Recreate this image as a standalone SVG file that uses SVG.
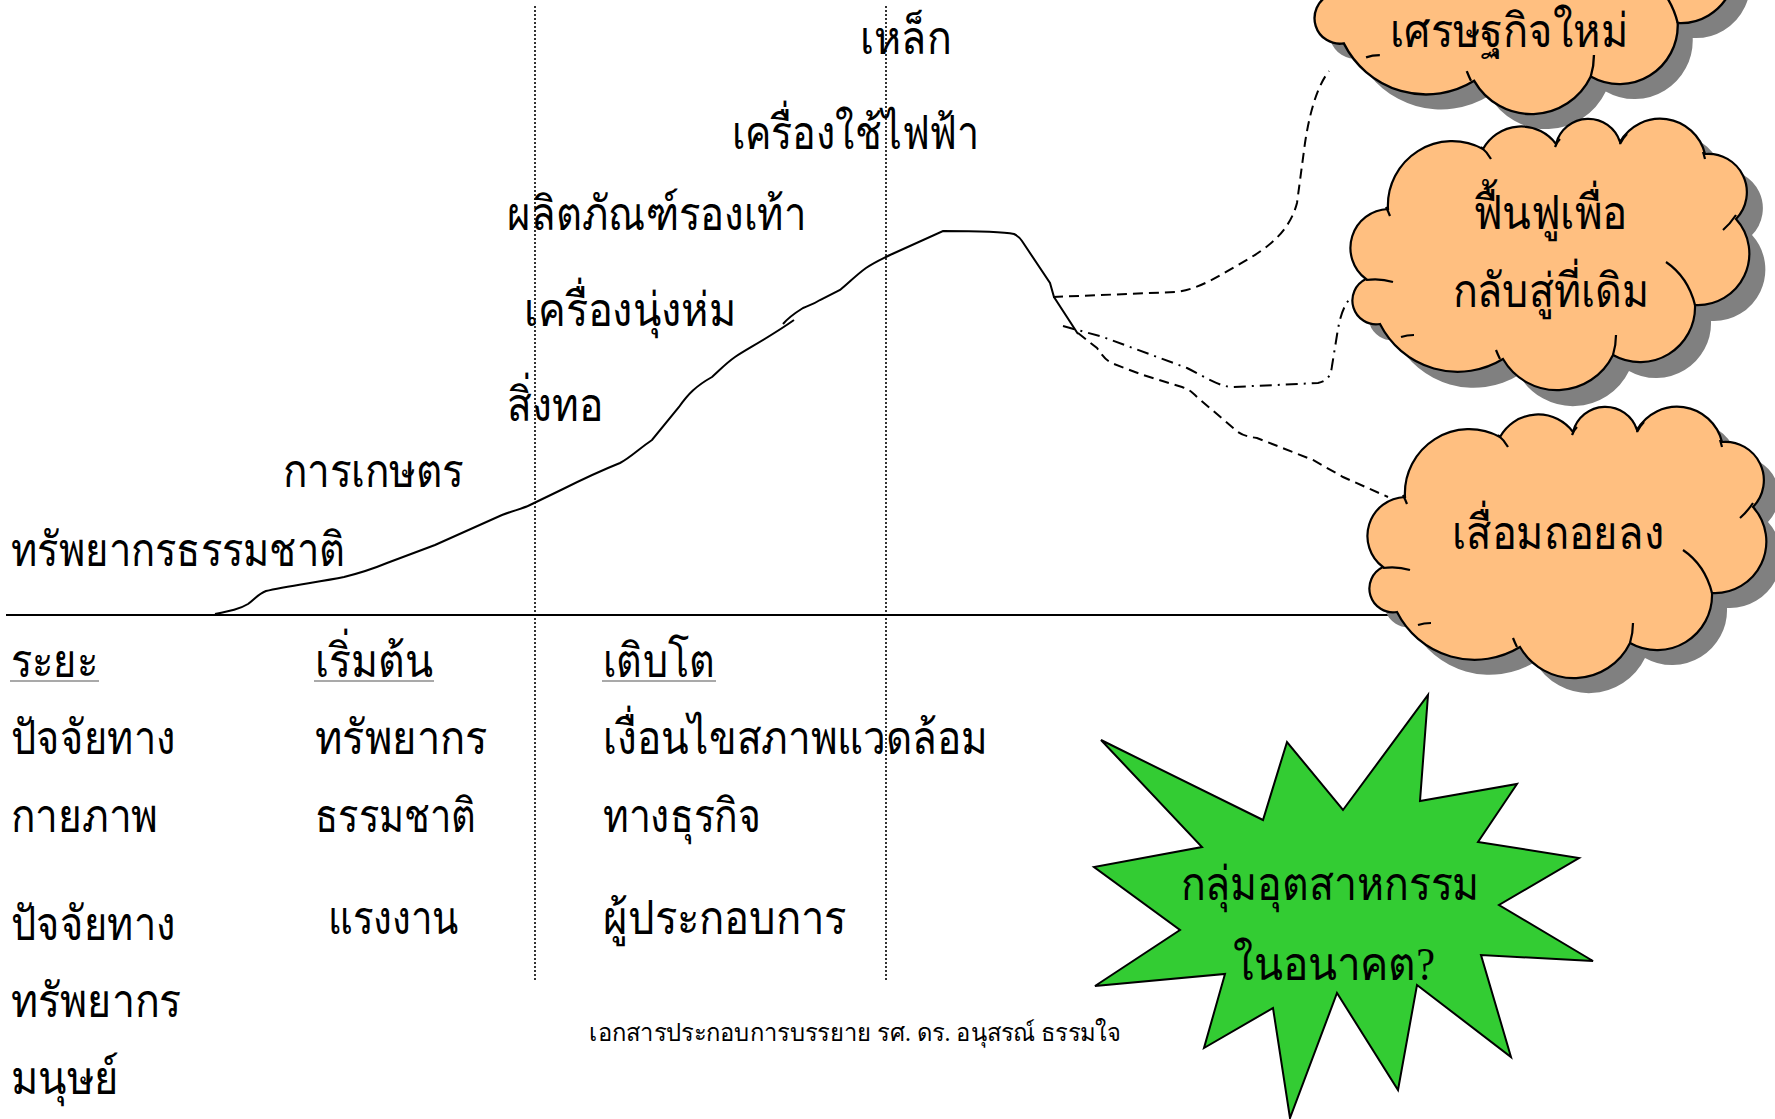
<svg xmlns="http://www.w3.org/2000/svg" xmlns:xlink="http://www.w3.org/1999/xlink" width="1775" height="1119" viewBox="0 0 1775 1119">
<style>
.t{font-family:'Liberation Serif','Noto Sans',serif;font-size:47px;fill:#000}
.c{text-anchor:middle}
.f{font-family:'Liberation Serif','Noto Sans',serif;font-size:25px;fill:#000}
.ul{stroke:#8c8c8c;stroke-width:1.5}
.dot{stroke:#000;stroke-width:1.6;stroke-dasharray:2 2;fill:none}
.conn{fill:none;stroke:#000;stroke-width:2}
.cloud{fill:#ffbf80;stroke:#000;stroke-width:2.2}
.shadow{fill:#808080}
.tick{fill:none;stroke:#000;stroke-width:2.2}
</style>
<defs>
<path id="cloudP" d="M16,160 A38.9,38.9 0 0 1 38,90 A64.3,64.3 0 0 1 133,30 A43.5,43.5 0 0 1 206,25 A33.3,33.3 0 0 1 270,23 A46.2,46.2 0 0 1 355,35 A38.4,38.4 0 0 1 386,100 A51.5,51.5 0 0 1 345,186 A55,55 0 0 1 263,236 A62.3,62.3 0 0 1 153,240 A87,87 0 0 1 30,205 A23.8,23.8 0 0 1 16,160 Z"/>
<path id="cloudT" d="M36,88 q2,4 4,9 M16,161 q14,-2 27,2 M51,218 q6,-2 13,-2 M146,231 q2,5 4,9 M266,216 q0,10 -3,20 M316,143 q22,15 29,43 M373,111 q7,-6 13,-15 M355,40 q-1,-4 -2,-7 M270,25 q3,-6 7,-10 M205,28 q2,-5 5,-8 M131,28 q6,5 10,12"/>
</defs>
<rect width="1775" height="1119" fill="#fff"/>

<g id="axes">
<line x1="6" y1="615" x2="1390" y2="615" stroke="#000" stroke-width="2"/>
<line class="dot" x1="535" y1="6" x2="535" y2="980"/>
<line class="dot" x1="886" y1="6" x2="886" y2="980"/>
</g>

<g id="curve">
<path class="conn" d="M215,614 C230,611 240,609 248,604 C255,599 258,594 266,591 C285,586 320,582 344,577 C360,573 375,568 387,563 L435,545 L502,515 C515,510 522,509 530,505 L561,490 C575,483 595,473 620,463 C630,458 640,448 652,440 L679,407 C688,394 696,386 712,377 C720,370 725,364 735,357 C745,350 770,337 794,320"/>
<path class="conn" d="M783,324 C788,318 795,313 803,308 C810,305 814,304 820,300 L840,290 C850,282 855,276 866,268 C875,262 880,260 890,255 L943,231 C965,231 1000,231 1014,234 C1018,236 1020,238 1022,241 L1050,283 L1054,297 L1078,334"/>
</g>

<g id="connectors">
<path class="conn" stroke-dasharray="10 6" d="M1053,297 L1175,292 C1200,290 1225,272 1250,258 C1270,246 1290,230 1297,203 L1305,143 C1310,110 1318,85 1329,71"/>
<path class="conn" stroke-dasharray="12 6 2 6" d="M1063,326 L1103,337 L1187,368 C1205,377 1220,387 1233,387 L1318,383 C1328,381 1331,375 1332,366 L1337,335 C1340,315 1344,305 1352,296"/>
<path class="conn" stroke-dasharray="10 6" d="M1078,333 L1097,348 C1103,356 1106,361 1114,364 L1143,375 L1182,387 C1190,390 1192,392 1197,397 L1238,432 C1244,436 1250,437 1257,438 L1313,460 L1343,477 L1388,497"/>
</g>

<g id="cloud1">
<use xlink:href="#cloudP" class="shadow" transform="translate(1327,-161) scale(1.06,1.07)"/>
<use xlink:href="#cloudP" class="cloud" transform="translate(1312,-176) scale(1.06,1.07)"/>
<use xlink:href="#cloudT" class="tick" transform="translate(1312,-176) scale(1.06,1.07)"/>
<text class="t c" x="1509" y="47" textLength="238" lengthAdjust="spacingAndGlyphs">เศรษฐกิจใหม่</text>
</g>

<g id="cloud2">
<use xlink:href="#cloudP" class="shadow" transform="translate(1366,135)"/>
<use xlink:href="#cloudP" class="cloud" transform="translate(1350,119)"/>
<use xlink:href="#cloudT" class="tick" transform="translate(1350,119)"/>
<text class="t c" x="1550" y="229" textLength="155" lengthAdjust="spacingAndGlyphs">ฟื้นฟูเพื่อ</text>
<text class="t c" x="1551" y="307" textLength="197" lengthAdjust="spacingAndGlyphs">กลับสู่ที่เดิม</text>
</g>

<g id="cloud3">
<use xlink:href="#cloudP" class="shadow" transform="translate(1382,422)"/>
<use xlink:href="#cloudP" class="cloud" transform="translate(1367,407)"/>
<use xlink:href="#cloudT" class="tick" transform="translate(1367,407)"/>
<text class="t c" x="1558" y="549" textLength="212" lengthAdjust="spacingAndGlyphs">เสื่อมถอยลง</text>
</g>

<g id="star">
<polygon points="1101,740 1263,820 1287,742 1343,810 1428,695 1420,801 1517,784 1478,842 1579,858 1499,905 1593,961 1481,955 1511,1057 1417,985 1398,1090 1337,993 1290,1118 1273,1008 1204,1048 1225,974 1095,986 1180,930 1094,867 1202,847" fill="#33cc33" stroke="#000" stroke-width="2"/>
<text class="t c" x="1330" y="900" textLength="299" lengthAdjust="spacingAndGlyphs">กลุ่มอุตสาหกรรม</text>
<text class="t c" x="1334" y="980" textLength="202" lengthAdjust="spacingAndGlyphs">ในอนาคต?</text>
</g>

<g id="labels-top">
<text class="t" x="860" y="54" textLength="91" lengthAdjust="spacingAndGlyphs">เหล็ก</text>
<text class="t" x="732" y="149" textLength="247" lengthAdjust="spacingAndGlyphs">เครื่องใช้ไฟฟ้า</text>
<text class="t" x="507" y="230" textLength="299" lengthAdjust="spacingAndGlyphs">ผลิตภัณฑ์รองเท้า</text>
<text class="t" x="524" y="326" textLength="212" lengthAdjust="spacingAndGlyphs">เครื่องนุ่งห่ม</text>
<text class="t" x="507" y="421" textLength="96" lengthAdjust="spacingAndGlyphs">สิ่งทอ</text>
<text class="t" x="283" y="487" textLength="181" lengthAdjust="spacingAndGlyphs">การเกษตร</text>
<text class="t" x="11" y="566" textLength="334" lengthAdjust="spacingAndGlyphs">ทรัพยากรธรรมชาติ</text>
</g>

<g id="labels-bottom">
<text class="t" x="11" y="677" textLength="87" lengthAdjust="spacingAndGlyphs">ระยะ</text>
<line class="ul" x1="10" y1="681" x2="99" y2="681"/>
<text class="t" x="315" y="677" textLength="118" lengthAdjust="spacingAndGlyphs">เริ่มต้น</text>
<line class="ul" x1="314" y1="681" x2="434" y2="681"/>
<text class="t" x="603" y="677" textLength="112" lengthAdjust="spacingAndGlyphs">เติบโต</text>
<line class="ul" x1="602" y1="681" x2="716" y2="681"/>
<text class="t" x="11" y="754" textLength="164" lengthAdjust="spacingAndGlyphs">ปัจจัยทาง</text>
<text class="t" x="315" y="754" textLength="172" lengthAdjust="spacingAndGlyphs">ทรัพยากร</text>
<text class="t" x="603" y="754" textLength="385" lengthAdjust="spacingAndGlyphs">เงื่อนไขสภาพแวดล้อม</text>
<text class="t" x="11" y="832" textLength="147" lengthAdjust="spacingAndGlyphs">กายภาพ</text>
<text class="t" x="315" y="832" textLength="161" lengthAdjust="spacingAndGlyphs">ธรรมชาติ</text>
<text class="t" x="603" y="832" textLength="158" lengthAdjust="spacingAndGlyphs">ทางธุรกิจ</text>
<text class="t" x="11" y="940" textLength="164" lengthAdjust="spacingAndGlyphs">ปัจจัยทาง</text>
<text class="t" x="328" y="934" textLength="130" lengthAdjust="spacingAndGlyphs">แรงงาน</text>
<text class="t" x="603" y="934" textLength="243" lengthAdjust="spacingAndGlyphs">ผู้ประกอบการ</text>
<text class="t" x="11" y="1017" textLength="170" lengthAdjust="spacingAndGlyphs">ทรัพยากร</text>
<text class="t" x="11" y="1094" textLength="108" lengthAdjust="spacingAndGlyphs">มนุษย์</text>
<text class="f" x="589" y="1041" textLength="532" lengthAdjust="spacingAndGlyphs">เอกสารประกอบการบรรยาย รศ. ดร. อนุสรณ์ ธรรมใจ</text>
</g>
</svg>
